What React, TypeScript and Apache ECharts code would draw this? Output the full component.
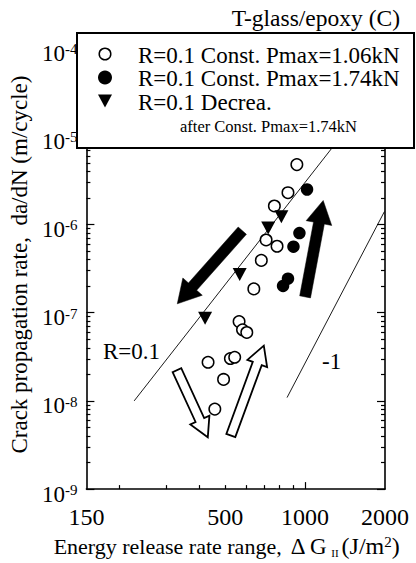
import React, { useEffect, useRef } from "react";
import * as echarts from "echarts";

const FONT = "'Liberation Serif', 'Times New Roman', serif";

// Data: [ΔG_II (J/m²), da/dN (m/cycle)]
const openCircles: number[][] = [
  [931, 4.77e-6], [862, 2.29e-6], [766, 1.62e-6], [713, 6.67e-7], [784, 5.66e-7],
  [684, 3.91e-7], [641, 1.86e-7], [564, 7.92e-8], [581, 6.4e-8], [603, 5.96e-8],
  [431, 2.74e-8], [523, 3.02e-8], [543, 3.12e-8], [493, 1.75e-8], [457, 8.07e-9],
];
const filledCircles: number[][] = [
  [1017, 2.49e-6], [952, 7.98e-7], [904, 5.6e-7], [862, 2.43e-7], [826, 2.01e-7],
];
const triangles: number[][] = [
  [814, 1.22e-6], [726, 9.1e-7], [567, 2.7e-7], [420, 8.63e-8],
];
const lineR01: number[][] = [[227, 1.0e-8], [1276, 7.66e-6]];
const lineMinus1: number[][] = [[855, 1.09e-8], [1990, 1.4e-6]];
// arrows: [x tail, y tail, x tip, y tip]
const blackArrows: number[][] = [
  [580, 8.5e-7, 330, 1.26e-7],
  [1000, 1.51e-7, 1170, 1.87e-6],
];
const whiteArrows: number[][] = [
  [329, 2.23e-8, 430, 3.87e-9],
  [525, 4.05e-9, 699, 4.23e-8],
];

const xLabelValues = [150, 500, 1000, 2000];
const xMinorTicks = [200, 300, 400, 500, 600, 700, 800, 900];
const xMajorTicks = [1000];
const yMajorTicks = [1e-9, 1e-8, 1e-7, 1e-6, 1e-5, 1e-4];
const yMinorMultipliers = [2, 3, 4, 5, 6, 7, 8, 9];
const yMinorTicks = yMajorTicks
  .slice(0, -1)
  .flatMap((d) => yMinorMultipliers.map((m) => m * d));

const seriesNames = [
  "R=0.1 Const. Pmax=1.06kN",
  "R=0.1 Const. Pmax=1.74kN",
  "R=0.1 Decrea.",
];
const legendNote = "after Const. Pmax=1.74kN";

function arrowRenderer(shaft: number, headW: number, headL: number, fill: string) {
  return (params: any, api: any) => {
    const p0 = api.coord([api.value(0), api.value(1)]);
    const p1 = api.coord([api.value(2), api.value(3)]);
    const dx = p1[0] - p0[0];
    const dy = p1[1] - p0[1];
    const len = Math.sqrt(dx * dx + dy * dy) || 1;
    const ux = dx / len, uy = dy / len;
    const nx = -uy, ny = ux;
    const neck = [p1[0] - ux * headL, p1[1] - uy * headL];
    const pt = (b: number[], s: number) => [b[0] + nx * s, b[1] + ny * s];
    const points = [
      pt(p0, shaft / 2),
      pt(neck, shaft / 2),
      pt(neck, headW / 2),
      p1,
      pt(neck, -headW / 2),
      pt(neck, -shaft / 2),
      pt(p0, -shaft / 2),
    ];
    return {
      type: "polygon",
      shape: { points },
      style: { fill, stroke: "#000", lineWidth: fill === "#000" ? 0.5 : 1.8, lineJoin: "miter" },
    };
  };
}

const axisLineStyle = { color: "#000", width: 1.6 };

export default function App() {
  const ref = useRef<HTMLDivElement>(null);
  useEffect(() => {
    if (!ref.current) return;
    const chart = echarts.init(ref.current, undefined, { renderer: "svg" });
    const yLabelFmt = (v: number) => `{b|10}{s|${Math.round(Math.log10(v))}}`;
    const option: any = {
      animation: false,
      backgroundColor: "#fff",
      title: {
        text: "T-glass/epoxy (C)",
        right: 16,
        top: 6,
        padding: 0,
        textStyle: { fontFamily: FONT, fontSize: 23.5, fontWeight: "normal", color: "#000" },
      },
      grid: { left: 85, right: 31, top: 48, bottom: 70 },
      xAxis: [
        {
          type: "log",
          logBase: 10,
          min: 150,
          max: 2000,
          position: "bottom",
          name: "Energy release rate range, {g|Δ G}{sub|II}{u|(J/m}{sup|2}{u|)}",
          nameLocation: "middle",
          nameGap: 42,
          nameTextStyle: {
            fontFamily: FONT,
            fontSize: 22,
            color: "#000",
            padding: [0, 18, 0, 0],
            rich: {
              g: { fontFamily: FONT, fontSize: 23, color: "#000", padding: [0, 0, 0, 3] },
              sub: { fontFamily: FONT, fontSize: 11, color: "#000", verticalAlign: "bottom", padding: [0, 3, 0, 4] },
              u: { fontFamily: FONT, fontSize: 24, color: "#000" },
              sup: { fontFamily: FONT, fontSize: 15, color: "#000", verticalAlign: "top" },
            },
          },
          axisLine: { show: true, lineStyle: axisLineStyle },
          axisTick: { show: true, inside: true, length: 7, customValues: xMajorTicks, lineStyle: { color: "#000", width: 1.2 } },
          axisLabel: {
            customValues: xLabelValues,
            margin: 16,
            fontFamily: FONT,
            fontSize: 24,
            color: "#000",
            formatter: (v: number) => String(Math.round(v)),
          },
          splitLine: { show: false },
          minorTick: { show: false },
        },
        {
          type: "log",
          logBase: 10,
          min: 150,
          max: 2000,
          position: "bottom",
          axisLine: { show: false },
          axisTick: { show: true, inside: true, length: 4, customValues: xMinorTicks, lineStyle: { color: "#000", width: 1.2 } },
          axisLabel: { show: false },
          splitLine: { show: false },
        },
      ],
      yAxis: [
        {
          type: "log",
          logBase: 10,
          min: 1e-9,
          max: 1e-4,
          position: "left",
          name: "Crack propagation rate,  da/dN (m/cycle)",
          nameLocation: "middle",
          nameGap: 46,
          nameTextStyle: { fontFamily: FONT, fontSize: 23, color: "#000", padding: [0, 0, 0, 8] },
          axisLine: { show: true, lineStyle: axisLineStyle },
          axisTick: { show: true, inside: true, length: 8, customValues: yMajorTicks, lineStyle: { color: "#000", width: 1.2 } },
          axisLabel: {
            customValues: yMajorTicks,
            margin: 9,
            padding: [10, 0, 0, 0],
            formatter: yLabelFmt,
            rich: {
              b: { fontFamily: FONT, fontSize: 23, color: "#000" },
              s: { fontFamily: FONT, fontSize: 15, color: "#000", verticalAlign: "top" },
            },
          },
          splitLine: { show: false },
        },
        {
          type: "log",
          logBase: 10,
          min: 1e-9,
          max: 1e-4,
          position: "left",
          axisLine: { show: false },
          axisTick: { show: true, inside: true, length: 4, customValues: yMinorTicks, lineStyle: { color: "#000", width: 1.2 } },
          axisLabel: { show: false },
          splitLine: { show: false },
        },
        {
          type: "log",
          logBase: 10,
          min: 1e-9,
          max: 1e-4,
          position: "right",
          axisLine: { show: true, lineStyle: axisLineStyle },
          axisTick: { show: true, inside: true, length: 8, customValues: yMajorTicks, lineStyle: { color: "#000", width: 1.2 } },
          axisLabel: { show: false },
          splitLine: { show: false },
        },
        {
          type: "log",
          logBase: 10,
          min: 1e-9,
          max: 1e-4,
          position: "right",
          axisLine: { show: false },
          axisTick: { show: true, inside: true, length: 4, customValues: yMinorTicks, lineStyle: { color: "#000", width: 1.2 } },
          axisLabel: { show: false },
          splitLine: { show: false },
        },
      ],
      series: [
        {
          name: "R=0.1 line",
          type: "line",
          data: lineR01,
          symbol: "none",
          lineStyle: { color: "#000", width: 0.9 },
          z: 1,
        },
        {
          name: "-1 line",
          type: "line",
          data: lineMinus1,
          symbol: "none",
          lineStyle: { color: "#000", width: 0.9 },
          z: 1,
        },
        {
          name: "black arrows",
          type: "custom",
          renderItem: arrowRenderer(11, 26, 23, "#000"),
          data: blackArrows,
          encode: { x: [0, 2], y: [1, 3] },
          z: 2,
        },
        {
          name: "white arrows",
          type: "custom",
          renderItem: arrowRenderer(9.5, 21, 19, "#fff"),
          data: whiteArrows,
          encode: { x: [0, 2], y: [1, 3] },
          z: 2,
        },
        {
          name: seriesNames[0],
          type: "scatter",
          data: openCircles,
          symbol: "circle",
          symbolSize: 11.5,
          itemStyle: { color: "#fff", borderColor: "#000", borderWidth: 1.5, opacity: 1 },
          z: 3,
        },
        {
          name: seriesNames[1],
          type: "scatter",
          data: filledCircles,
          symbol: "circle",
          symbolSize: 12.5,
          itemStyle: { color: "#000", opacity: 1 },
          z: 3,
        },
        {
          name: seriesNames[2],
          type: "scatter",
          data: triangles,
          symbol: "triangle",
          symbolRotate: 180,
          symbolSize: [14, 13],
          itemStyle: { color: "#000", opacity: 1 },
          z: 3,
        },
      ],
      graphic: [
        {
          type: "text",
          left: 103,
          top: 340,
          style: { text: "R=0.1", fontFamily: FONT, fontSize: 23, fill: "#000" },
          z: 50,
        },
        {
          type: "text",
          left: 322,
          top: 350,
          style: { text: "-1", fontFamily: FONT, fontSize: 23, fill: "#000" },
          z: 50,
        },
        {
          type: "group",
          z: 100,
          children: [
            {
              type: "rect",
              shape: { x: 77, y: 33, width: 337, height: 115 },
              style: { fill: "#fff", stroke: "#000", lineWidth: 2 },
              z: 100,
            },
            {
              type: "circle",
              shape: { cx: 105, cy: 54, r: 5.8 },
              style: { fill: "#fff", stroke: "#000", lineWidth: 1.5 },
              z: 101,
            },
            {
              type: "circle",
              shape: { cx: 105, cy: 77.5, r: 7 },
              style: { fill: "#000" },
              z: 101,
            },
            {
              type: "polygon",
              shape: { points: [[98, 94.5], [112, 94.5], [105, 107.5]] },
              style: { fill: "#000" },
              z: 101,
            },
            {
              type: "text",
              x: 138,
              y: 55,
              style: { text: seriesNames[0], fontFamily: FONT, fontSize: 23, fill: "#000", verticalAlign: "middle" },
              z: 101,
            },
            {
              type: "text",
              x: 138,
              y: 78.5,
              style: { text: seriesNames[1], fontFamily: FONT, fontSize: 23, fill: "#000", verticalAlign: "middle" },
              z: 101,
            },
            {
              type: "text",
              x: 138,
              y: 102,
              style: { text: seriesNames[2], fontFamily: FONT, fontSize: 23, fill: "#000", verticalAlign: "middle" },
              z: 101,
            },
            {
              type: "text",
              x: 180,
              y: 126,
              style: { text: legendNote, fontFamily: FONT, fontSize: 16.5, fill: "#000", verticalAlign: "middle" },
              z: 101,
            },
          ],
        },
      ],
    };
    chart.setOption(option);
    return () => chart.dispose();
  }, []);
  return <div ref={ref} style={{ width: 416, height: 563, position: "absolute", left: 0, top: 0 }} />;
}
